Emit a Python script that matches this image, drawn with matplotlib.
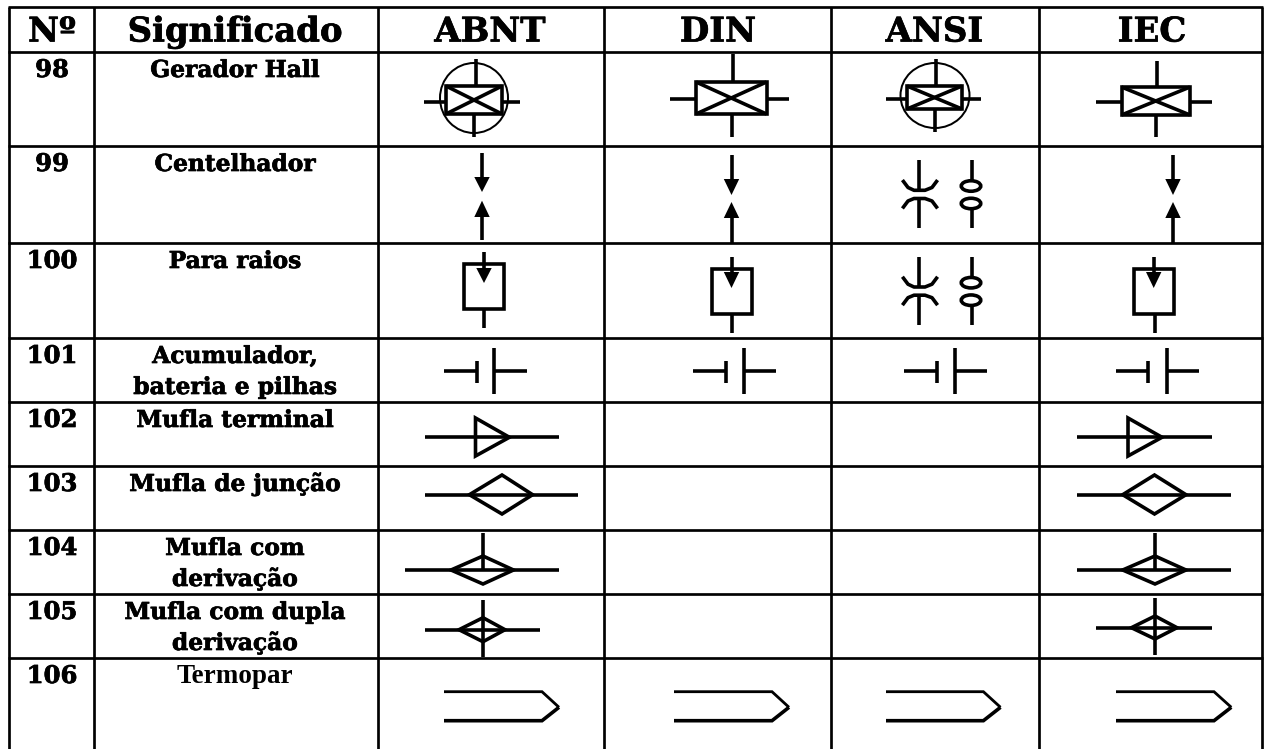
import matplotlib
matplotlib.use("Agg")
import matplotlib.pyplot as plt
import matplotlib.patheffects as pe
from matplotlib.patches import Ellipse, Rectangle, Polygon

# ---- table content ----
headers = ["Nº", "Significado", "ABNT", "DIN", "ANSI", "IEC"]
numbers = ["98", "99", "100", "101", "102", "103", "104", "105", "106"]
meanings = ["Gerador Hall", "Centelhador", "Para raios", "Acumulador,\nbateria e pilhas",
            "Mufla terminal", "Mufla de junção", "Mufla com\nderivação",
            "Mufla com dupla\nderivação", "Termopar"]

# ---- layout (pixels) ----
col_edges = [9, 94, 378, 604, 831, 1039, 1262]
row_edges = [7, 52, 146, 243, 338, 402, 466, 530, 594, 658, 749]
header_x = [52, 235, 490, 718, 934.5, 1152]
px = 72 / 100
LW = 3.6 * px
THIN = 2 * px
GRID = 2.7 * px

fig = plt.figure(figsize=(12.64, 7.49), dpi=100)
ax = fig.add_axes([0, 0, 1, 1])
ax.set_xlim(0, 1264)
ax.set_ylim(749, 0)
ax.axis("off")

for x in col_edges:
    ax.plot([x, x], [row_edges[0], row_edges[-1]], color="black", lw=GRID, solid_capstyle="butt")
for y in row_edges[:-1]:
    ax.plot([col_edges[0] - 1, col_edges[-1] + 1], [y, y], color="black", lw=GRID, solid_capstyle="butt")

SERIF = "DejaVu Serif"
heavy = [pe.withStroke(linewidth=0.5, foreground="black")]


def seg(xs, ys, lw=LW):
    ax.plot(xs, ys, color="black", lw=lw, solid_capstyle="butt", solid_joinstyle="miter")


# ---- text ----
for cx, h in zip(header_x, headers):
    ax.text(cx, 41.5, h, ha="center", va="baseline", family=SERIF, weight="bold", fontsize=24.4,
            path_effects=heavy)

for i, (n, m) in enumerate(zip(numbers, meanings)):
    top = row_edges[i + 1]
    ax.text(52, top + 25, n, ha="center", va="baseline", family=SERIF, weight="bold", fontsize=17.5,
            path_effects=heavy)
    if m == "Termopar":
        ax.text(235, top + 25, m, ha="center", va="baseline", family="Liberation Serif", weight="bold",
                fontsize=19.5)
    else:
        for k, line in enumerate(m.split("\n")):
            ax.text(235, top + 25 + 31 * k, line, ha="center", va="baseline", family=SERIF, weight="bold",
                    fontsize=16.8, path_effects=heavy)


# ---- symbols ----
def hall(x0, x1, y0, y1, xl, xr, ym, xt, yt, xb, yb, circle=None):
    ax.add_patch(Rectangle((x0, y0), x1 - x0, y1 - y0, fill=False, ec="black", lw=LW))
    seg([x0, x1], [y0, y1])
    seg([x0, x1], [y1, y0])
    seg([xl, x0], [ym, ym])
    seg([x1, xr], [ym, ym])
    seg([xt, xt], [yt, y0])
    seg([xb, xb], [y1, yb])
    if circle:
        ax.add_patch(Ellipse((circle[0], circle[1]), circle[2], circle[3], fill=False, ec="black", lw=THIN))


def arrow_head(x, tip, base, half=7.7):
    ax.add_patch(Polygon([(x - half, base), (x + half, base), (x, tip)], closed=True, fc="black", ec="none"))


def gap(x, y_start, tip1, base1, tip2, base2, y_end):
    seg([x, x], [y_start, base1])
    arrow_head(x, tip1, base1)
    seg([x, x], [base2, y_end])
    arrow_head(x, tip2, base2)


def arrester(x0, x1, y0, y1, xa, ya, tip, base, xl, yl):
    ax.add_patch(Rectangle((x0, y0), x1 - x0, y1 - y0, fill=False, ec="black", lw=LW))
    seg([xa, xa], [ya, base])
    arrow_head(xa, tip, base)
    seg([xl, xl], [y1, yl])


def ansi_gap(dy):
    xa, xb = 919.3, 972
    seg([xa, xa], [160 + dy, 190 + dy])
    seg([xa, xa], [198 + dy, 228 + dy])
    ax.plot([903.5, 908, 914, 925, 932, 936.5],
            [y + dy for y in [181.5, 187.5, 190.3, 190.3, 187.5, 181.5]], color="black", lw=LW)
    ax.plot([903.5, 908, 914, 925, 932, 936.5],
            [y + dy for y in [207, 201, 198.5, 198.5, 201, 207]], color="black", lw=LW)
    seg([xb, xb], [160 + dy, 180 + dy])
    seg([xb, xb], [209 + dy, 228 + dy])
    ax.add_patch(Ellipse((xb - 1, 186 + dy), 19.5, 10.5, fill=False, ec="black", lw=LW))
    ax.add_patch(Ellipse((xb - 1, 203.5 + dy), 19.5, 10.5, fill=False, ec="black", lw=LW))


def battery(x0, x1, x2, x3):
    seg([x0, x1], [371, 371])
    seg([x1, x1], [360.5, 383])
    seg([x2, x2], [348, 394])
    seg([x2, x3], [371, 371])


def terminal(x0, x1, xv, xa):
    seg([x0, x1], [437.3, 437.3])
    ax.add_patch(Polygon([(xv, 418), (xa, 437.3), (xv, 456)], closed=True, fill=False, ec="black", lw=LW))


def diamond(x0, x1, xl, xr, xc, ym, yt, yb, lw=LW):
    seg([x0, x1], [ym, ym])
    ax.add_patch(Polygon([(xl, ym), (xc, yt), (xr, ym), (xc, yb)], closed=True, fill=False, ec="black", lw=lw))


def thermo(x0, x1, xa):
    ax.plot([x0, x1, xa], [691.7, 691.7, 707.3], color="black", lw=2.8 * px,
            solid_capstyle="butt", solid_joinstyle="miter")
    ax.plot([xa, x1, x0], [707.3, 720.7, 720.7], color="black", lw=LW,
            solid_capstyle="butt", solid_joinstyle="miter")


# Row 98
hall(446, 502, 86, 114, 424, 520, 101.7, 475.5, 59, 473.5, 137, circle=(474, 98, 68, 70))
hall(696, 766.5, 82, 114, 670, 789, 99.3, 733, 54, 731.5, 137)
hall(907, 962, 86, 109, 885.5, 981, 98.7, 935.7, 59, 935, 132, circle=(935, 95.5, 69, 65))
hall(1121.5, 1190, 87, 115, 1096.4, 1212, 102, 1157, 61, 1156, 137)
# Row 99
gap(482, 153, 192, 177, 200.7, 217, 240)
gap(731.5, 155, 195, 179, 202, 218, 243)
ansi_gap(0)
gap(1173, 155, 195, 179, 202, 218, 243)
# Row 100
arrester(464, 504, 264, 308.5, 484, 252, 283, 268, 484, 328)
arrester(711.6, 752, 269, 314, 731.5, 257, 288, 272, 731.5, 333)
ansi_gap(96.7)
arrester(1134, 1174.4, 269, 314, 1153.7, 257, 288, 272, 1154.5, 333)
# Row 101
battery(444, 476.5, 494.3, 526.5)
battery(693, 725.6, 744, 776)
battery(904, 937, 955, 987)
battery(1116, 1148, 1166.5, 1198.7)
# Row 102
terminal(424.5, 559, 475.5, 509.4)
terminal(1077, 1212, 1128, 1162)
# Row 103
diamond(424.5, 578, 469.4, 532.6, 502, 494.7, 475, 514)
diamond(1077, 1231, 1122.7, 1186, 1154.5, 494.7, 475, 514)
# Row 104
diamond(405, 559, 451, 513.5, 483, 570, 556, 584)
seg([483, 483], [533, 570])
diamond(1077, 1231, 1122.7, 1186, 1155, 570, 556, 584)
seg([1155, 1155], [533, 570])
# Row 105
diamond(424.5, 539.6, 459, 505, 483, 629.7, 617.7, 641.7)
seg([483, 483], [600, 656.7])
diamond(1096.4, 1212, 1131.4, 1177, 1155, 627.7, 616, 639)
seg([1155, 1155], [597.7, 655])
# Row 106
thermo(444, 542, 559)
thermo(674, 772, 789)
thermo(886, 983.4, 1000.5)
thermo(1116, 1214, 1231.3)

fig.savefig("out.png", dpi=100, facecolor="white")
